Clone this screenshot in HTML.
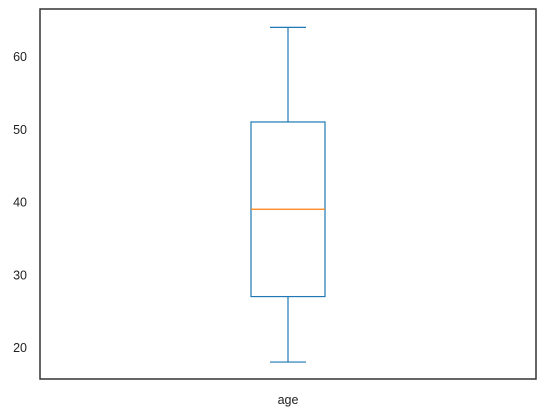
<!DOCTYPE html>
<html><head><meta charset="utf-8"><style>
html,body{margin:0;padding:0;background:#fff;}
svg{display:block;font-family:"Liberation Sans",sans-serif;}
</style></head><body>
<svg id="chart" width="546" height="416">
<rect x="40" y="9" width="496" height="370" fill="none" stroke="#333" stroke-width="1.5"/>
<g id="yticks"></g>
<g id="box"></g>
<text x="288" y="404" font-size="12.5" fill="#222" text-anchor="middle">age</text>
</svg>
<script>
const categories = ["age"];
const whiskerLow = [18];
const q1 = [27];
const median = [39];
const q3 = [51];
const whiskerHigh = [64];
const yTicks = [20, 30, 40, 50, 60];

const NS = "http://www.w3.org/2000/svg";
function y(v){ return 202 + (40 - v) * 7.275; }
const cx = 288, halfW = 37, capW = 18;
function mk(tag, attrs, parent){
  const e = document.createElementNS(NS, tag);
  for (const k in attrs) e.setAttribute(k, attrs[k]);
  parent.appendChild(e);
  return e;
}
const yt = document.getElementById('yticks');
yTicks.forEach(t => {
  const el = mk('text', {x: 27, y: y(t) + 4.5, 'font-size': 12.5, fill: '#222', 'text-anchor': 'end'}, yt);
  el.textContent = t;
  
  
});
const g = document.getElementById('box');
const blue = '#1f77b4';
categories.forEach((c, i) => {
  const b = mk('rect', {x: cx - halfW, y: y(q3[i]), width: halfW * 2, height: y(q1[i]) - y(q3[i]), fill: 'none', stroke: blue, 'stroke-width': 1.2}, g);
  
  
  const m = mk('line', {x1: cx - halfW, x2: cx + halfW, y1: y(median[i]), y2: y(median[i]), stroke: '#ff7f0e', 'stroke-width': 1.2}, g);
  
  
  const w1 = mk('line', {x1: cx, x2: cx, y1: y(q3[i]), y2: y(whiskerHigh[i]), stroke: blue, 'stroke-width': 1.2}, g);
  
  
  const w2 = mk('line', {x1: cx, x2: cx, y1: y(q1[i]), y2: y(whiskerLow[i]), stroke: blue, 'stroke-width': 1.2}, g);
  
  
  const c1 = mk('line', {x1: cx - capW, x2: cx + capW, y1: y(whiskerHigh[i]), y2: y(whiskerHigh[i]), stroke: blue, 'stroke-width': 1.2}, g);
  
  
  const c2 = mk('line', {x1: cx - capW, x2: cx + capW, y1: y(whiskerLow[i]), y2: y(whiskerLow[i]), stroke: blue, 'stroke-width': 1.2}, g);
  
  
});
</script>
</body></html>
